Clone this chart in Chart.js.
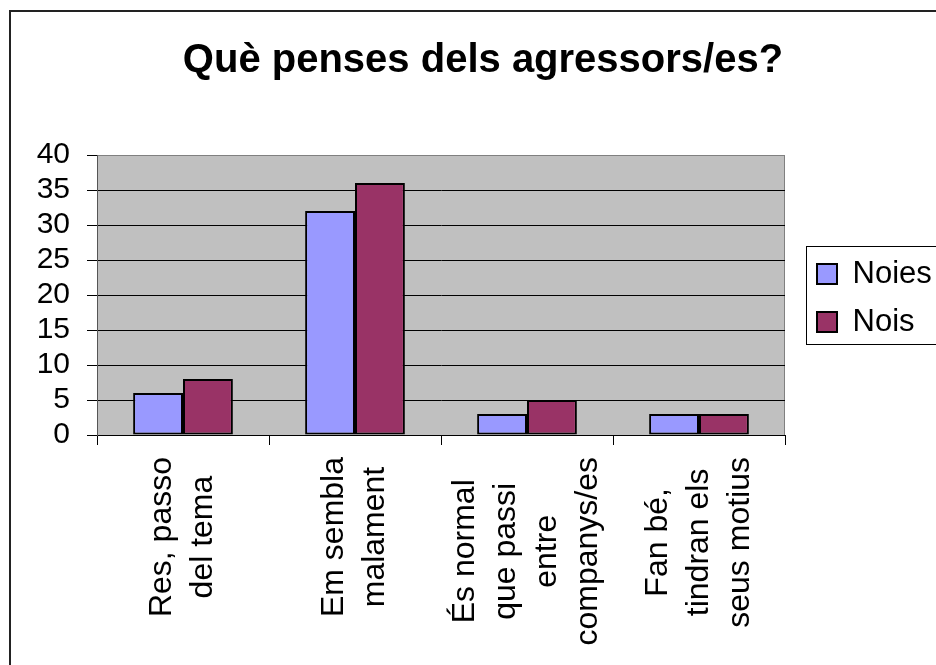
<!DOCTYPE html>
<html>
<head>
<meta charset="utf-8">
<title>Què penses dels agressors/es?</title>
<script src="https://cdn.jsdelivr.net/npm/chart.js@4.4.1/dist/chart.umd.min.js"></script>
<style>
  html, body { margin: 0; padding: 0; background: #fff; overflow: hidden; }
  #frame { position: absolute; left: 9px; top: 10px; width: 944px; height: 700px;
           border: 2px solid #222; }
  #myChart { display: block; }
</style>
</head>
<body>
<div id="frame"><canvas id="myChart" width="944" height="653"></canvas></div>
<script>
'use strict';

// dades
const categories = [
  ['Res, passo', 'del tema'],
  ['Em sembla', 'malament'],
  ['És normal', 'que passi', 'entre', 'companys/es'],
  ['Fan bé,', 'tindran els', 'seus motius']
];
const noies = [6, 32, 3, 3];
const nois = [8, 36, 5, 3];
const yMax = 40;
const yStep = 5;

Chart.defaults.font.family = '"Liberation Sans", Arial, sans-serif';
Chart.defaults.color = '#000';

// fons gris de l'àrea del gràfic
const plotBg = {
  id: 'plotBg',
  beforeDraw(chart) {
    const { ctx, chartArea: a } = chart;
    ctx.save();
    ctx.fillStyle = '#c0c0c0';
    ctx.fillRect(a.left, a.top, a.right - a.left, a.bottom - a.top);
    ctx.strokeStyle = '#808080';
    ctx.lineWidth = 1;
    ctx.strokeRect(a.left + 0.5, a.top + 0.5, a.right - a.left - 1, a.bottom - a.top);
    ctx.restore();
  }
};

// títol i llegenda on els posa l'Excel
const placeBoxes = {
  id: 'placeBoxes',
  afterLayout(chart) {
    const t = chart.titleBlock;
    t.left = 0; t.right = chart.width; t.width = chart.width;
    const lg = chart.legend;
    lg.left = 789; lg.right = 949; lg.width = 160;
    lg.top = 229.5; lg.bottom = 359.5; lg.height = 130;
  },
  afterDraw(chart) {
    const lg = chart.legend;
    const ctx = chart.ctx;
    ctx.save();
    ctx.strokeStyle = '#000';
    ctx.lineWidth = 1;
    ctx.strokeRect(lg.left + 6.5, lg.top + 5, 200, 98);
    ctx.restore();
  }
};

// etiquetes de categoria girades, línies centrades
const xLabels = {
  id: 'xLabels',
  afterDraw(chart) {
    const { ctx } = chart;
    const xs = chart.scales.x;
    ctx.save();
    ctx.font = '32px "Liberation Sans", Arial, sans-serif';
    ctx.fillStyle = '#000';
    ctx.textAlign = 'center';
    ctx.textBaseline = 'middle';
    categories.forEach((lines, i) => {
      const len = Math.max(...lines.map(l => ctx.measureText(l).width));
      const px = xs.getPixelForValue(i);
      const top = chart.chartArea.bottom + 22;
      ctx.save();
      ctx.translate(px, top + len / 2);
      ctx.rotate(-Math.PI / 2);
      lines.forEach((l, j) => ctx.fillText(l, 0, (j - (lines.length - 1) / 2) * 41));
      ctx.restore();
    });
    ctx.restore();
  }
};

const ctx = document.getElementById('myChart').getContext('2d');

new Chart(ctx, {
  type: 'bar',
  data: {
    labels: categories.map(c => c.join(' ')),
    datasets: [
      {
        label: 'Noies',
        data: noies,
        backgroundColor: '#9999ff',
        borderColor: '#000',
        borderWidth: 2,
        borderSkipped: false
      },
      {
        label: 'Nois',
        data: nois,
        backgroundColor: '#993366',
        borderColor: '#000',
        borderWidth: 2,
        borderSkipped: false
      }
    ]
  },
  options: {
    responsive: false,
    animation: false,
    categoryPercentage: 0.58,
    barPercentage: 1.0,
    layout: { padding: { left: 0, right: 170, top: 0, bottom: 0 } },
    plugins: {
      title: {
        display: true,
        text: 'Què penses dels agressors/es?',
        color: '#000',
        font: { size: 40, weight: 'bold', lineHeight: 1.2 },
        padding: { top: 25, bottom: 70 }
      },
      legend: {
        position: 'chartArea',
        align: 'start',
        labels: {
          boxWidth: 20,
          boxHeight: 20,
          padding: 17,
          color: '#000',
          font: { size: 31 }
        }
      },
      tooltip: { enabled: false }
    },
    scales: {
      x: {
        grid: {
          display: true,
          drawOnChartArea: false,
          drawTicks: true,
          tickLength: 10,
          color: '#000',
          offset: true
        },
        border: { display: true, color: '#000', width: 1 },
        ticks: { display: false },
        afterFit(scale) { scale.height = 230; }
      },
      y: {
        min: 0,
        max: yMax,
        ticks: {
          stepSize: yStep,
          autoSkip: false,
          padding: 17,
          color: '#000',
          font: { size: 30 }
        },
        grid: {
          color: c => (c.tick && c.tick.value === yMax ? '#808080' : '#000'),
          tickColor: '#000',
          tickLength: 10,
          lineWidth: 1
        },
        border: { display: true, color: '#555', width: 1 },
        afterFit(scale) { scale.width = 86; }
      }
    }
  },
  plugins: [plotBg, placeBoxes, xLabels]
});
</script>
</body>
</html>
